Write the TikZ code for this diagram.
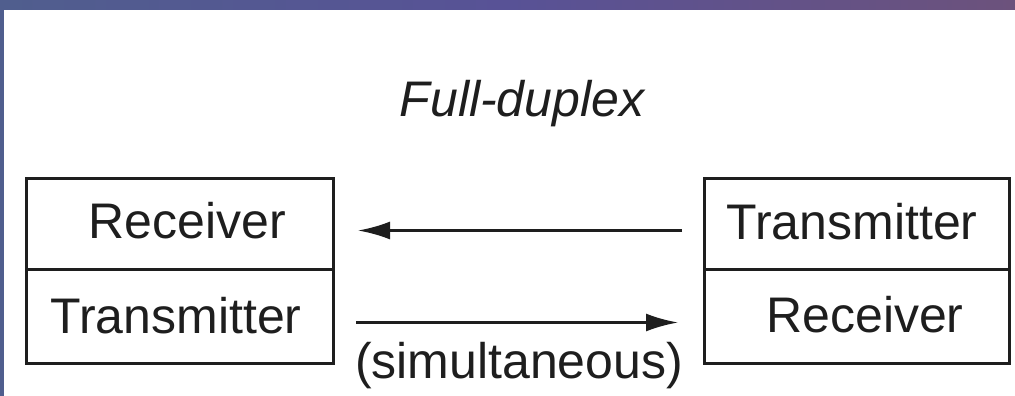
\documentclass[tikz,border=0pt]{standalone}
\usepackage{fontspec}
\setmainfont{Liberation Sans}
\usetikzlibrary{arrows.meta}
\definecolor{bandL}{RGB}{80,94,142}
\definecolor{bandM}{RGB}{88,82,150}
\definecolor{bandR}{RGB}{108,82,124}
\definecolor{ink}{RGB}{30,30,30}
\tikzset{
  cell/.style={draw=ink, line width=3pt, minimum width=307pt, inner sep=0pt, anchor=north west},
  label/.style={anchor=base, inner sep=0pt, text=ink, font=\fontsize{50}{60}\selectfont},
  arr/.style={draw=ink, line width=2.6pt, -{Latex[length=32pt,width=18pt]}},
}
\begin{document}
\begin{tikzpicture}[x=1pt,y=-1pt]
  \useasboundingbox (0,0) rectangle (1015,396);
  % slide frame: top band and left strip
  \shade[left color=bandL, right color=bandR, middle color=bandM] (0,0) rectangle (1015,10);
  \fill[bandL] (0,10) rectangle (3.5,396);
  \fill[white] (3.5,10) rectangle (1015,396);

  % title
  \node[label, font=\fontsize{50}{60}\selectfont\itshape] (title) at (522,117) {Full-duplex};

  % left station
  \node[cell, minimum height=91pt] (ltop) at (25,177) {};
  \node[cell, minimum height=94pt] (lbot) at (25,268) {};
  % right station
  \node[cell, minimum width=305pt, minimum height=91pt] (rtop) at (703,177) {};
  \node[cell, minimum width=305pt, minimum height=94pt] (rbot) at (703,268) {};

  \node[label] (lrx) at (187.5,238) {Receiver};
  \node[label] (ltx) at (176,333) {Transmitter};
  \node[label] (rtx) at (852,239) {Transmitter};
  \node[label] (rrx) at (865,332) {Receiver};

  % both directions at once
  \draw[arr, shorten <=21pt, shorten >=23pt] ([yshift=-6.5pt]rtop.west) -- ([yshift=-6.5pt]ltop.east);
  \draw[arr, shorten <=21pt, shorten >=25pt] ([yshift=-6pt]lbot.east) -- ([yshift=-6pt]rbot.west);

  \node[label] (sim) at (519,378) {(simultaneous)};
\end{tikzpicture}
\end{document}
